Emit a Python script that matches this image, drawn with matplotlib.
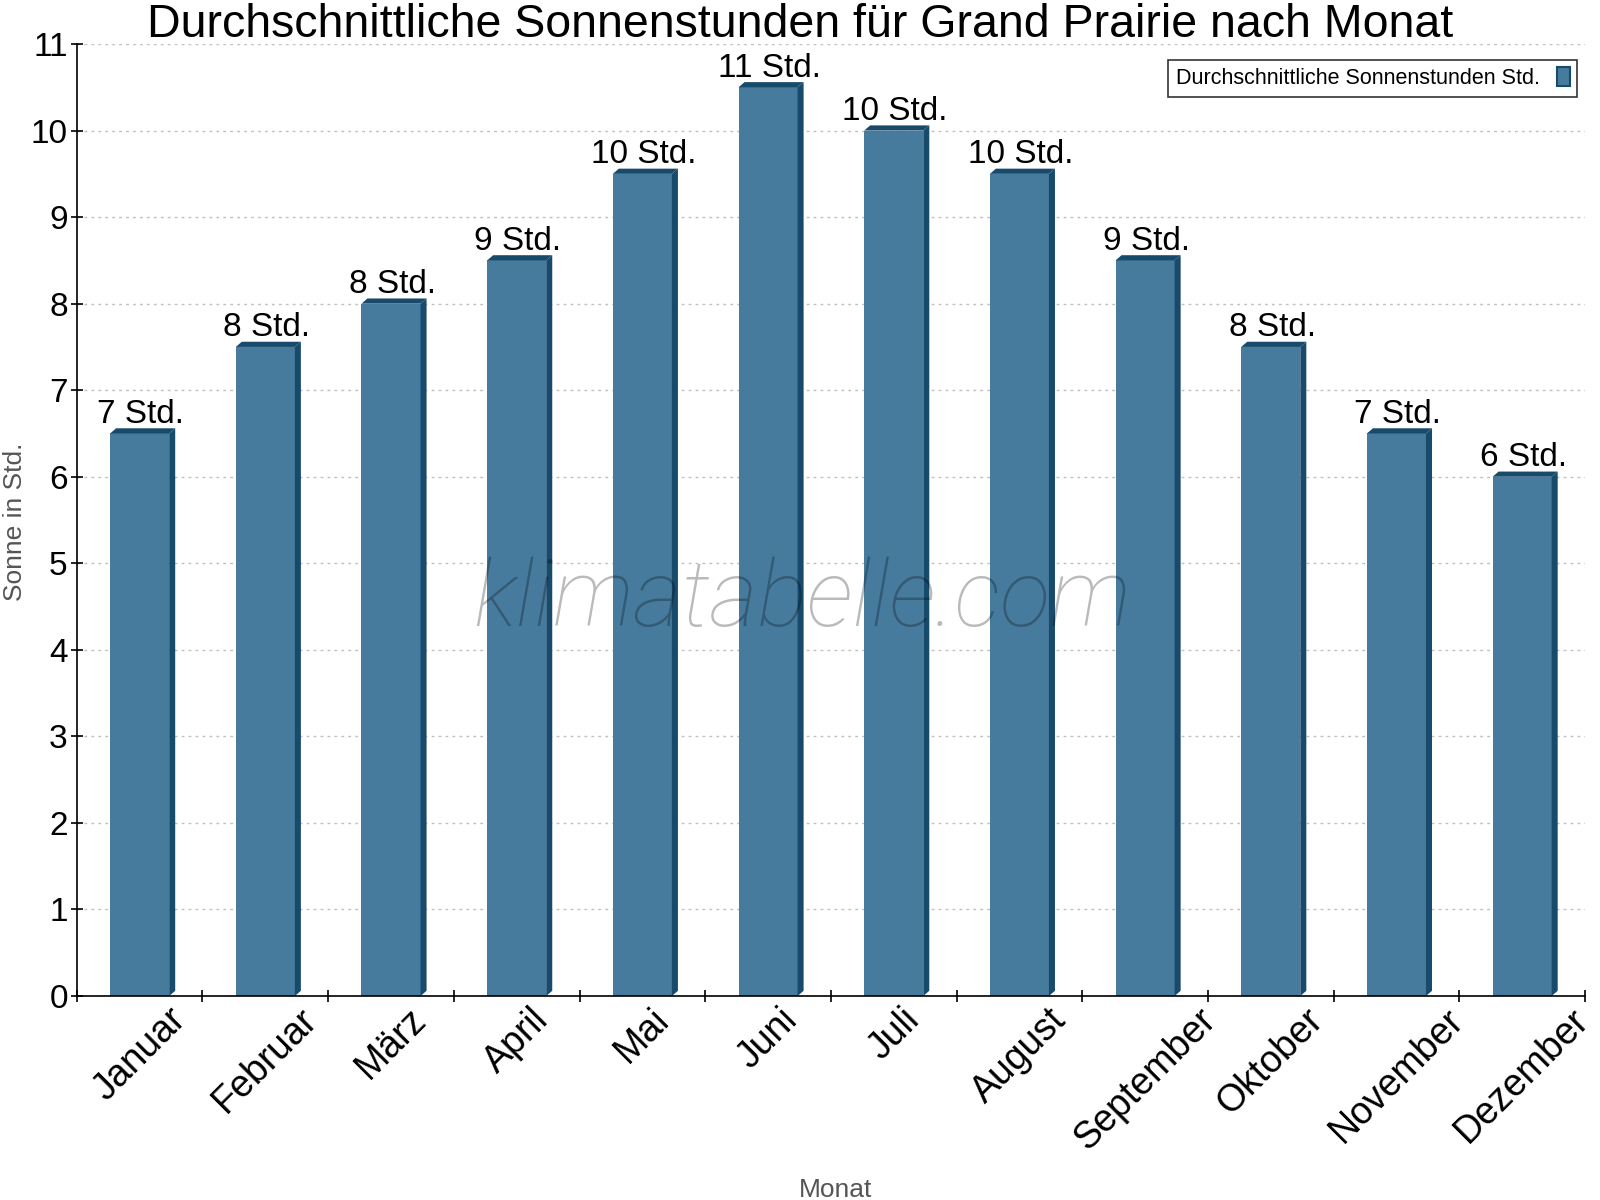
import numpy as np
import matplotlib
matplotlib.use('Agg')
import matplotlib.pyplot as plt
from matplotlib.patches import Polygon

# Monthly sunshine hours.
months = ['Januar', 'Februar', 'März', 'April', 'Mai', 'Juni',
          'Juli', 'August', 'September', 'Oktober', 'November', 'Dezember']
sun_hours = [6.5, 7.5, 8.0, 8.5, 9.5, 10.5, 10.0, 9.5, 8.5, 7.5, 6.5, 6.0]
bar_labels = ['7 Std.', '8 Std.', '8 Std.', '9 Std.', '10 Std.', '11 Std.',
              '10 Std.', '10 Std.', '9 Std.', '8 Std.', '7 Std.', '6 Std.']

front_color = '#467b9e'
dark_color = '#184a6c'

plt.rcParams['font.family'] = ['Liberation Sans', 'DejaVu Sans']

fig = plt.figure(figsize=(16, 12), dpi=100)
ax = fig.add_axes([0.048, 0.17, 0.9426, 0.7933])

x = np.arange(len(months))
width = 0.47
ax.set_xlim(-0.5, len(months) - 0.5)
ax.set_ylim(0, 11)

# Depth of the fake 3D effect, in data units.
dx = 0.048
dy = 0.06

bars = ax.bar(x, sun_hours, width=width, color=front_color, zorder=2)
for rect, h in zip(bars, sun_hours):
    x0 = rect.get_x()
    x1 = x0 + rect.get_width()
    side = Polygon([(x1, 0), (x1 + dx, dy), (x1 + dx, h + dy), (x1, h)],
                   closed=True, facecolor=dark_color, edgecolor='none', zorder=2)
    top = Polygon([(x0, h), (x0 + dx, h + dy), (x1 + dx, h + dy), (x1, h)],
                  closed=True, facecolor=dark_color, edgecolor='none', zorder=2)
    ax.add_patch(side)
    ax.add_patch(top)

for xi, h, lab in zip(x, sun_hours, bar_labels):
    ax.text(xi + 0.01, h + dy - 0.02, lab, ha='center', va='bottom', fontsize=24, zorder=4)

# Ticks: labels at the bars, tick marks between categories.
ax.set_xticks(x)
ax.set_xticklabels(months, rotation=45, fontsize=27)
ax.tick_params(axis='x', which='major', length=0, pad=4)
ax.set_xticks(np.arange(-0.5, len(months)), minor=True)
ax.tick_params(axis='x', which='minor', length=9, direction='inout', width=1.2)
ax.set_yticks(np.arange(0, 12))
ax.tick_params(axis='y', length=9, direction='inout', width=1.2, labelsize=24, pad=2)

ax.grid(axis='y', linestyle=(0, (2, 3)), color='#c0c0c0', linewidth=1, zorder=0)
ax.set_axisbelow(True)
ax.spines['top'].set_visible(False)
ax.spines['right'].set_visible(False)
ax.spines['left'].set_linewidth(1.2)
ax.spines['bottom'].set_linewidth(1.2)

fig.text(0.5225, 1 - 1190 / 1200, 'Monat', ha='center', va='center',
         fontsize=19, color='#555555')
fig.text(15 / 1600, 1 - 522 / 1200, 'Sonne in Std.', ha='center', va='center',
         rotation=90, fontsize=19, color='#555555')

fig.text(0.5, 1 - 37 / 1200, 'Durchschnittliche Sonnenstunden für Grand Prairie nach Monat',
         ha='center', va='baseline', fontsize=33.5)

leg = ax.legend([bars[0]], ['Durchschnittliche Sonnenstunden Std.'], loc='upper right',
                bbox_to_anchor=(1.002, 0.995), fontsize=15.5, frameon=True, fancybox=False,
                markerfirst=False, handlelength=0.6, handleheight=1.0, borderpad=0.35,
                handletextpad=0.8)
leg.get_frame().set_edgecolor('black')
leg.get_frame().set_linewidth(1.2)
leg.legend_handles[0].set_edgecolor(dark_color)
leg.legend_handles[0].set_linewidth(1.5)

ax.text(0.481, 0.415, 'klimatabelle.com', transform=ax.transAxes, ha='center', va='center',
        fontsize=67, family='Roboto', fontweight='light', style='italic',
        color='black', alpha=0.27, zorder=5)

plt.savefig('out.png', dpi=100)
plt.close()
